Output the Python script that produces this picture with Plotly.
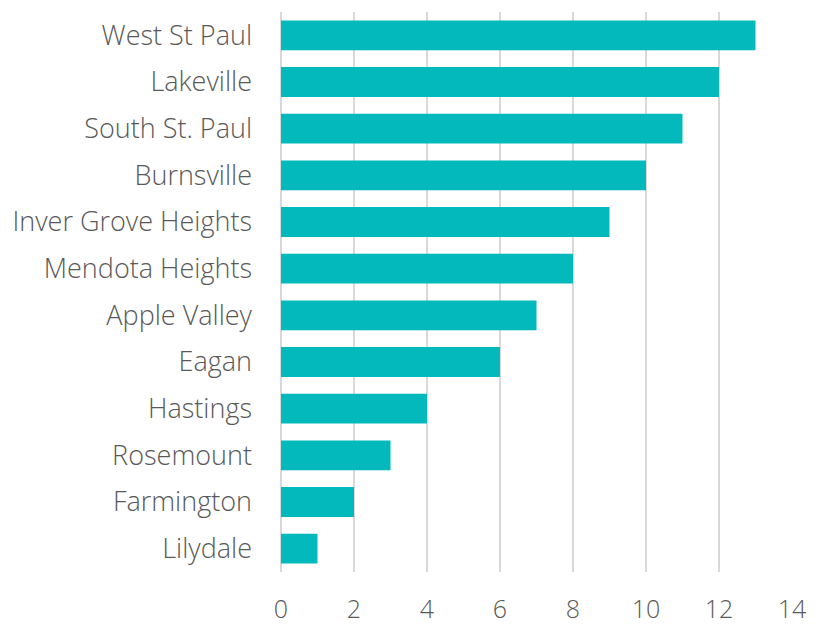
import plotly.graph_objects as go

cities = ["West St Paul", "Lakeville", "South St. Paul", "Burnsville", "Inver Grove Heights",
          "Mendota Heights", "Apple Valley", "Eagan", "Hastings", "Rosemount", "Farmington", "Lilydale"]
values = [13, 12, 11, 10, 9, 8, 7, 6, 4, 3, 2, 1]
x_ticks = [0, 2, 4, 6, 8, 10, 12, 14]

fig = go.Figure(go.Bar(
    y=cities, x=values, orientation="h",
    marker=dict(color="#03B9BC", line=dict(width=0)),
))

font_color = "#595959"
fig.update_layout(
    width=817, height=617,
    margin=dict(l=273, r=33, t=4, b=53, autoexpand=False),
    paper_bgcolor="white", plot_bgcolor="white",
    bargap=0.36,
    showlegend=False,
    font=dict(family="Open Sans", size=24, color=font_color, weight=300),
)
fig.update_xaxes(
    range=[0, 14], tickvals=x_ticks, showgrid=True, gridcolor="#D9D9D9", gridwidth=2,
    zeroline=True, zerolinecolor="#D9D9D9", zerolinewidth=2,
    showline=False, ticks="", ticklabelstandoff=20,
    tickfont=dict(family="Open Sans", size=25, color=font_color, weight=300),
)
fig.update_yaxes(
    categoryorder="array", categoryarray=cities[::-1], autorange=True,
    showgrid=False, showline=False, ticks="", ticklabelstandoff=28,
    tickfont=dict(family="Open Sans", size=27, color=font_color, weight=300),
)
fig.write_html("out.html")
